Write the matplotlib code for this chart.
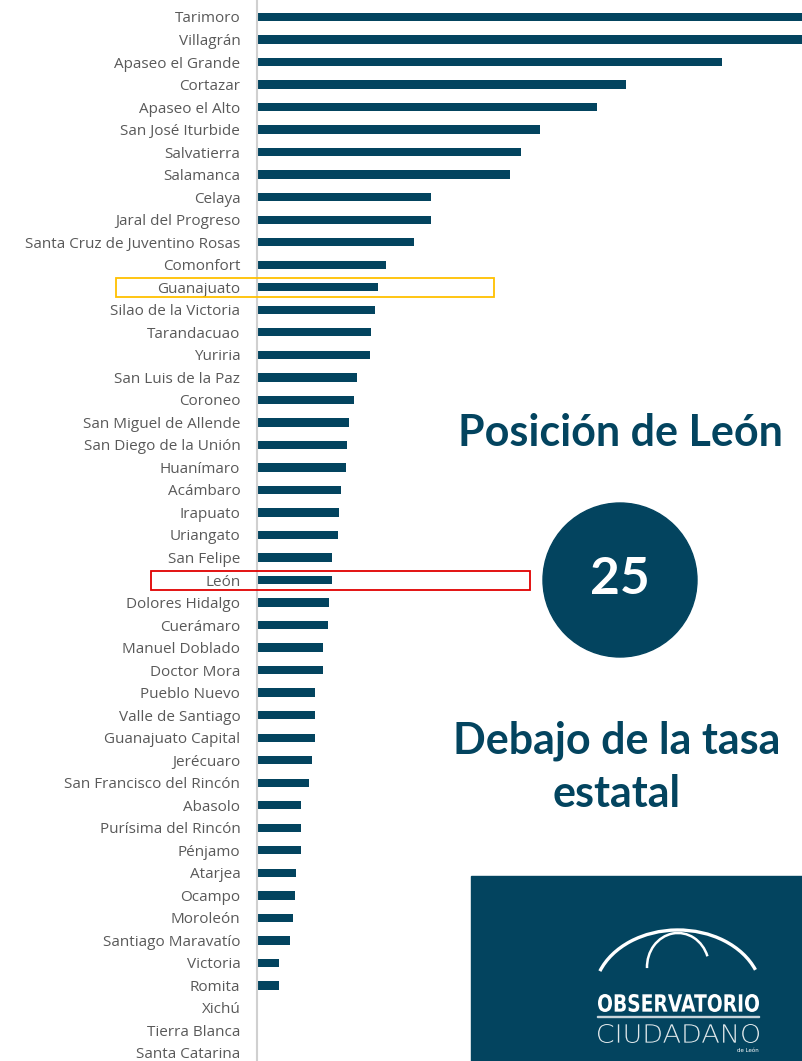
import matplotlib
matplotlib.use("Agg")
import matplotlib.pyplot as plt
from matplotlib.patches import Rectangle, Circle, Arc, PathPatch
from matplotlib.textpath import TextPath
from matplotlib.font_manager import FontProperties
from matplotlib.transforms import blended_transform_factory, Affine2D

municipios = [
    "Tarimoro", "Villagrán", "Apaseo el Grande", "Cortazar", "Apaseo el Alto",
    "San José Iturbide", "Salvatierra", "Salamanca", "Celaya", "Jaral del Progreso",
    "Santa Cruz de Juventino Rosas", "Comonfort", "Guanajuato", "Silao de la Victoria",
    "Tarandacuao", "Yuriria", "San Luis de la Paz", "Coroneo", "San Miguel de Allende",
    "San Diego de la Unión", "Huanímaro", "Acámbaro", "Irapuato", "Uriangato",
    "San Felipe", "León", "Dolores Hidalgo", "Cuerámaro", "Manuel Doblado",
    "Doctor Mora", "Pueblo Nuevo", "Valle de Santiago", "Guanajuato Capital",
    "Jerécuaro", "San Francisco del Rincón", "Abasolo", "Purísima del Rincón",
    "Pénjamo", "Atarjea", "Ocampo", "Moroleón", "Santiago Maravatío", "Victoria",
    "Romita", "Xichú", "Tierra Blanca", "Santa Catarina",
]
# tasas (unidades relativas)
tasas = [
    560, 550, 465, 369, 340, 283, 264, 253, 174, 174,
    157, 129, 121, 118, 114, 113, 100, 97, 92, 90,
    89, 84, 82, 81, 75, 75, 72, 71, 66, 66,
    58, 58, 58, 55, 52, 44, 44, 44, 39, 38,
    36, 33, 22, 22, 0, 0, 0,
]
posicion_leon = "25"
fila_estatal = "Guanajuato"
fila_leon = "León"

azul = "#03445f"
W, H = 803, 1061
fig = plt.figure(figsize=(W / 100, H / 100), dpi=100)

n = len(municipios)
step = (1053 - 17) / (n - 1)
top = -17 / step
bottom = (n - 1) + (H - 1053) / step

ax = fig.add_axes([257 / W, 0, (W - 257) / W, 1])
ax.barh(range(n), tasas, height=0.37, color=azul)
ax.set_ylim(bottom, top)
ax.set_xlim(0, 546)
ax.set_yticks(range(n))
ax.set_yticklabels(municipios, fontsize=11, color="#595959", family="Open Sans")
ax.tick_params(axis="y", length=0, pad=12)
ax.set_xticks([])
for s in ["top", "right", "bottom"]:
    ax.spines[s].set_visible(False)
ax.spines["left"].set_color("#d0d0d0")
ax.spines["left"].set_linewidth(1.5)

# recuadros de resaltado
tr = blended_transform_factory(fig.transFigure, ax.transData)
for nombre, x0, x1, col in [(fila_estatal, 116, 494, "#ffc000"), (fila_leon, 151, 530, "#e00000")]:
    i = municipios.index(nombre)
    fig.patches.append(Rectangle((x0 / W, i - 0.42), (x1 - x0) / W, 0.84,
                                 transform=tr, fill=False, ec=col, lw=1.3))

# textos de la derecha
fig.text(620 / W, 1 - 433 / H, "Posición de León", ha="center", va="center",
         fontsize=31, fontweight="bold", color=azul, family="Lato")
fig.patches.append(Circle((620, H - 580), 77, transform=None, color=azul))
fig.text(620 / W, 1 - 580 / H, posicion_leon, ha="center", va="center",
         fontsize=37, fontweight="bold", color="white", family="Lato")
fig.text(617 / W, 1 - 767 / H, "Debajo de la tasa\nestatal", ha="center", va="center",
         fontsize=31, fontweight="bold", color=azul, family="Lato", linespacing=1.4)


def texto_ajustado(s, x0, x1, y_top, y_bot, weight, color):
    # texto escalado para llenar una caja en pixeles (y medido desde arriba)
    tp = TextPath((0, 0), s, size=20, prop=FontProperties(family="DejaVu Sans", weight=weight))
    ext = tp.get_extents()
    sx = (x1 - x0) / ext.width
    sy = (y_bot - y_top) / ext.height
    t = Affine2D().translate(-ext.x0, -ext.y0).scale(sx, sy).translate(x0, H - y_bot)
    fig.patches.append(PathPatch(tp, transform=t, color=color, lw=0))


# logo
fig.patches.append(Rectangle((471 / W, 0), (W - 471) / W, (H - 876) / H,
                             transform=fig.transFigure, color=azul))
fig.patches.append(Arc((678, H - 995), 168, 130, theta1=18, theta2=163,
                       transform=None, color="white", lw=2.4))
fig.patches.append(Arc((678, H - 967), 62, 68, theta1=20, theta2=182,
                       transform=None, color="white", lw=1.8))
texto_ajustado("OBSERVATORIO", 598, 759, 994, 1012, "bold", "white")
fig.patches.append(Rectangle((597 / W, 1 - 1017 / H), 162 / W, 1 / H,
                             transform=fig.transFigure, color="#c8d4da"))
texto_ajustado("CIUDADANO", 598, 759, 1024, 1043, "light", "#dfe7ea")
fig.text(748 / W, 1 - 1051 / H, "de León", ha="center", va="center",
         fontsize=4, color="white")

fig.savefig("out.png", dpi=100)
